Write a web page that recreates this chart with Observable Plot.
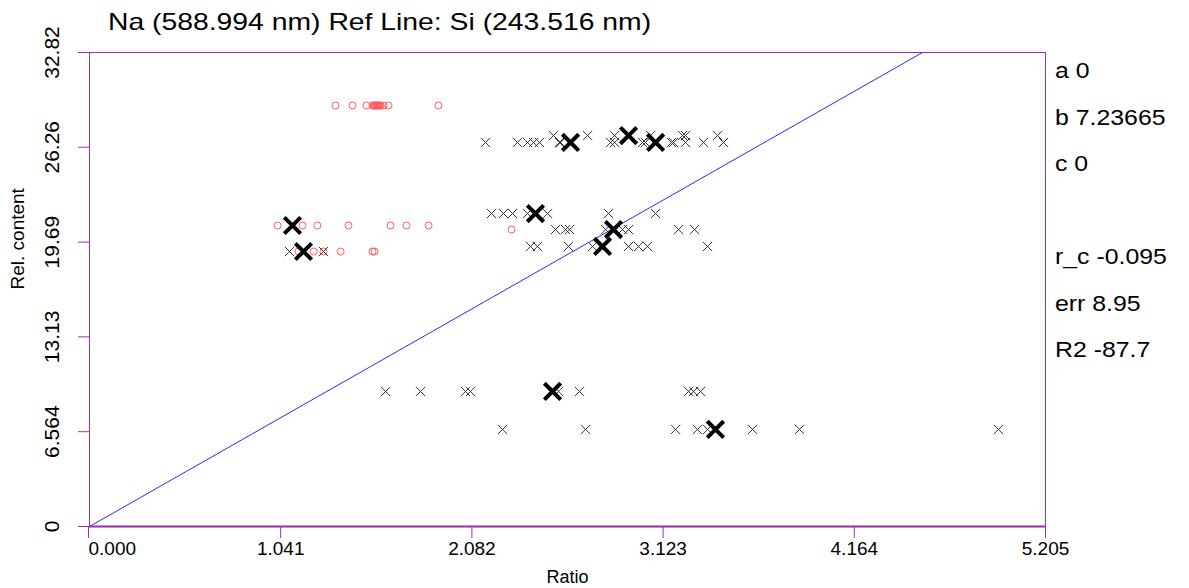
<!DOCTYPE html>
<html><head><meta charset="utf-8">
<script src="https://cdn.jsdelivr.net/npm/d3@7"></script>
<script src="https://cdn.jsdelivr.net/npm/@observablehq/plot@0.6"></script>
<style>
body{margin:0;background:#fff;}
#wrap{position:relative;width:1189px;height:588px;font-family:"Liberation Sans",Arial,sans-serif;color:#000;}
#title{position:absolute;left:108px;top:10px;font-size:24px;line-height:1;transform:scaleX(1.18);transform-origin:0 0;white-space:nowrap;}
#coef{position:absolute;left:1055px;top:48px;font-size:22px;line-height:46.5px;transform:scaleX(1.13);transform-origin:0 0;white-space:pre;}
</style></head><body><div id="wrap"><div id="title"></div><div id="coef"></div></div>
<script>
const title = "Na (588.994 nm) Ref Line: Si (243.516 nm)";
const xLabel = "Ratio";
const yLabel = "Rel. content";
const xTicks = [0, 1.041, 2.082, 3.123, 4.164, 5.205];
const yTicks = [0, 6.564, 13.13, 19.69, 26.26, 32.82];
const yTickLabels = ["0", "6.564", "13.13", "19.69", "26.26", "32.82"];
const coefNames = ["a", "b", "c", "", "r_c", "err", "R2"];
const coefValues = ["0", "7.23665", "0", "", "-0.095", "8.95", "-87.7"];
const slopeB = 7.23665;

// small crosses (samples)
const sampleRatio = [
  2.156, 2.330, 2.385, 2.418, 2.450, 2.559, 2.564, 2.837, 2.859, 3.011, 3.027, 3.169, 3.180, 3.245, 3.343, 3.452,
  2.526, 2.712, 2.859, 3.055, 3.229, 3.245, 3.419,
  2.189, 2.254, 2.303, 2.385, 2.494, 2.826, 3.082,
  2.537, 2.592, 2.614, 2.810, 2.902, 2.935, 3.207, 3.294,
  2.401, 2.439, 2.608, 2.739, 2.935, 2.989, 3.038, 3.365,
  1.089, 1.274,
  1.612, 1.802, 2.047, 2.074, 2.554, 2.668, 3.262, 3.289, 3.327,
  2.249, 2.701, 3.191, 3.310, 3.365, 3.610, 3.866, 4.949
];
const sampleContent = [
  26.59, 26.59, 26.59, 26.59, 26.59, 26.59, 26.59, 26.59, 26.59, 26.59, 26.59, 26.59, 26.59, 26.59, 26.59, 26.59,
  27.07, 27.07, 27.07, 27.07, 27.07, 27.07, 27.07,
  21.67, 21.67, 21.67, 21.67, 21.67, 21.67, 21.67,
  20.56, 20.56, 20.56, 20.56, 20.56, 20.56, 20.56, 20.56,
  19.39, 19.39, 19.39, 19.39, 19.39, 19.39, 19.39, 19.39,
  19.04, 19.04,
  9.35, 9.35, 9.35, 9.35, 9.35, 9.35, 9.35, 9.35, 9.35,
  6.72, 6.72, 6.72, 6.72, 6.72, 6.72, 6.72, 6.72
];
// bold crosses (means)
const meanRatio = [2.619, 2.935, 3.082, 2.428, 2.853, 2.793, 1.105, 1.165, 2.521, 3.408];
const meanContent = [26.59, 27.07, 26.59, 21.67, 20.56, 19.39, 20.84, 19.04, 9.35, 6.72];
// red circles (excluded)
const exclRatio = [
  1.339, 1.432, 1.508, 1.541, 1.548, 1.553, 1.558, 1.563, 1.568, 1.572, 1.576, 1.580, 1.585, 1.601, 1.628, 1.900,
  1.024, 1.160, 1.241, 1.410, 1.639, 1.726, 1.846,
  2.298,
  1.138, 1.220, 1.274, 1.367, 1.541, 1.552
];
const exclContent = [
  29.15, 29.15, 29.15, 29.15, 29.15, 29.15, 29.15, 29.15, 29.15, 29.15, 29.15, 29.15, 29.15, 29.15, 29.15, 29.15,
  20.84, 20.84, 20.84, 20.84, 20.84, 20.84, 20.84,
  20.56,
  19.04, 19.04, 19.04, 19.04, 19.04, 19.04
];

const purple = "#a030b0";
const samples = sampleRatio.map((x, i) => ({x, y: sampleContent[i]}));
const means = meanRatio.map((x, i) => ({x, y: meanContent[i]}));
const excl = exclRatio.map((x, i) => ({x, y: exclContent[i]}));
const xDomain = [xTicks[0], xTicks[xTicks.length - 1]];
const yDomain = [yTicks[0], yTicks[yTicks.length - 1]];

document.getElementById("title").textContent = title;
document.getElementById("coef").textContent = coefNames.map((n, i) => n ? n + " " + coefValues[i] : " ").join("\n");

const chart = Plot.plot({
  width: 1189,
  height: 588,
  marginLeft: 89,
  marginRight: 144,
  marginTop: 52,
  marginBottom: 62,
  style: {fontFamily: '"Liberation Sans", Arial, sans-serif', color: "#000", background: "transparent", overflow: "visible"},
  x: {domain: xDomain},
  y: {domain: yDomain},
  marks: [
    Plot.ruleY([0], {stroke: "#c890cc", strokeWidth: 3}),
    Plot.frame({stroke: purple}),
    Plot.axisY({ticks: yTicks, tickSize: 11, stroke: purple, tickFormat: () => "", label: null}),
    Plot.text(yTicks, {y: d => d, frameAnchor: "left", text: (d, i) => yTickLabels[i], rotate: -90, dx: -37, fontSize: 21, textAnchor: "middle", lineAnchor: "middle"}),
    Plot.axisX({ticks: xTicks.slice(1), tickSize: 12, tickPadding: 3, stroke: purple, fill: "#000", fontSize: 19, tickFormat: d3.format(".3f"), label: null}),
    Plot.axisX({ticks: xTicks.slice(0, 1), tickSize: 12, tickPadding: 3, stroke: purple, fill: "#000", fontSize: 19, tickFormat: d3.format(".3f"), textAnchor: "start", dx: -1, label: null}),
    Plot.text([xLabel], {frameAnchor: "bottom", dy: 51, lineAnchor: "middle", fontSize: 18}),
    Plot.text([yLabel], {frameAnchor: "left", rotate: -90, dx: -72, lineAnchor: "middle", fontSize: 19}),
    Plot.line(xDomain, {x: d => d, y: d => slopeB * d, stroke: "#2a2aff", strokeWidth: 1, clip: true}),
    Plot.dot(excl, {x: "x", y: "y", r: 3.5, stroke: "#ff5a5a", strokeWidth: 1, fill: "none"}),
    Plot.dot(samples, {x: "x", y: "y", symbol: "times", r: 4.3, stroke: "#333", strokeWidth: 1}),
    Plot.dot(means, {x: "x", y: "y", symbol: "times", r: 7.5, stroke: "#000", strokeWidth: 4})
  ]
});
document.getElementById("wrap").prepend(chart);
</script></body></html>
